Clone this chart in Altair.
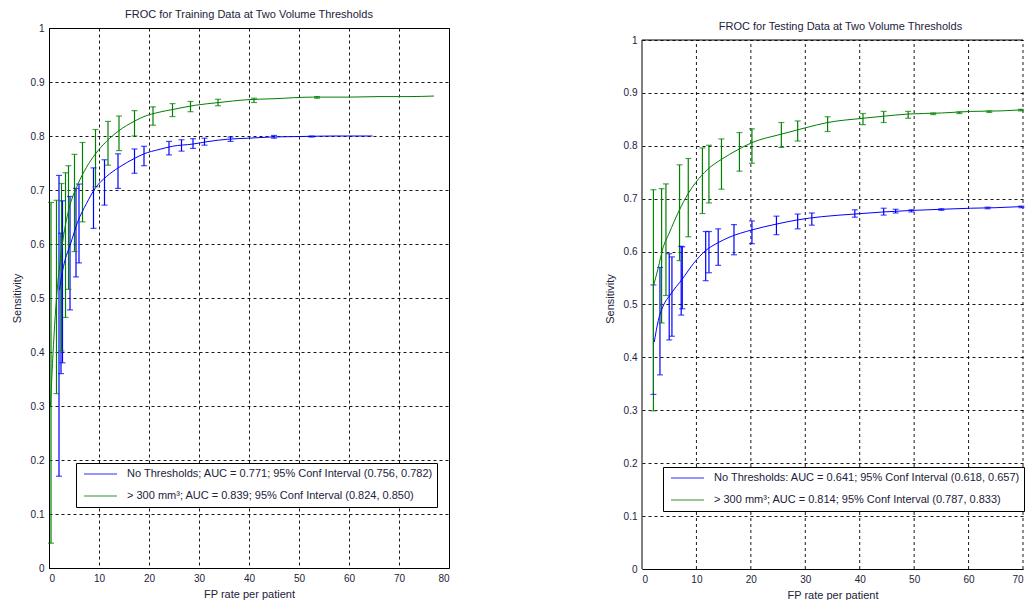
import altair as alt
import pandas as pd

FONT = "Liberation Sans, Arial, Helvetica, sans-serif"
BLUE = "#0000ff"
GREEN = "#008000"
TXT = "#22223a"

# ---------------- training panel ----------------
train_title = "FROC for Training Data at Two Volume Thresholds"
train_labels = ["No Thresholds; AUC = 0.771; 95% Conf Interval (0.756, 0.782)",
                "> 300 mm³; AUC = 0.839; 95% Conf Interval (0.824, 0.850)"]

tr_none_cx = [2.1, 2.6, 3.2, 4.3, 5.7, 7.5, 9.3, 11.5, 14.0, 17.0, 19.0, 22.0, 24.7, 28.7, 32.0, 35.7, 40.0, 44.0, 50.0, 57.0, 64.7]
tr_none_cy = [0.515, 0.545, 0.570, 0.600, 0.640, 0.675, 0.704, 0.725, 0.742, 0.758, 0.767, 0.775, 0.781, 0.785, 0.790, 0.794, 0.796, 0.798, 0.799, 0.800, 0.800]
tr_none_bx = [2.0, 2.4, 2.7, 4.2, 5.4, 6.0, 8.9, 11.1, 13.8, 17.1, 19.0, 24.0, 26.5, 28.8, 31.1, 36.3, 45.0, 52.5]
tr_none_lo = [0.170, 0.360, 0.380, 0.478, 0.539, 0.565, 0.629, 0.672, 0.703, 0.731, 0.745, 0.765, 0.772, 0.777, 0.783, 0.790, 0.796, 0.798]
tr_none_hi = [0.727, 0.620, 0.680, 0.688, 0.703, 0.711, 0.741, 0.756, 0.767, 0.776, 0.781, 0.790, 0.793, 0.795, 0.796, 0.798, 0.801, 0.800]

tr_big_cx = [0.3, 0.6, 1.0, 1.5, 2.0, 3.0, 4.0, 5.7, 7.5, 9.3, 11.5, 14.0, 17.0, 19.0, 22.0, 24.7, 29.3, 34.0, 39.3, 45.0, 52.7, 60.0, 66.0, 72.0, 77.0]
tr_big_cy = [0.300, 0.360, 0.430, 0.500, 0.550, 0.620, 0.665, 0.709, 0.742, 0.767, 0.790, 0.810, 0.827, 0.836, 0.844, 0.849, 0.857, 0.862, 0.867, 0.869, 0.872, 0.872, 0.873, 0.873, 0.874]
tr_big_bx = [0.4, 1.5, 2.5, 3.3, 3.9, 5.1, 6.7, 9.3, 11.8, 14.0, 17.1, 20.8, 24.7, 28.3, 33.8, 41.0, 53.6]
tr_big_lo = [0.046, 0.323, 0.402, 0.464, 0.516, 0.586, 0.641, 0.706, 0.746, 0.773, 0.800, 0.820, 0.836, 0.845, 0.856, 0.862, 0.870]
tr_big_hi = [0.677, 0.681, 0.712, 0.732, 0.745, 0.766, 0.788, 0.812, 0.827, 0.837, 0.847, 0.854, 0.860, 0.864, 0.868, 0.870, 0.873]

# ---------------- testing panel ----------------
test_title = "FROC for Testing Data at Two Volume Thresholds"
test_labels = ["No Thresholds: AUC = 0.641; 95% Conf Interval (0.618, 0.657)",
               "> 300 mm³; AUC = 0.814; 95% Conf Interval (0.787, 0.833)"]

te_none_cx = [2.25, 3.0, 3.8, 5.3, 7.4, 9.5, 11.7, 14.0, 16.0, 20.2, 24.7, 28.6, 33.0, 39.1, 44.4, 50.0, 55.0, 60.4, 65.0, 69.6]
te_none_cy = [0.429, 0.470, 0.495, 0.520, 0.548, 0.578, 0.602, 0.617, 0.627, 0.641, 0.652, 0.660, 0.666, 0.671, 0.675, 0.678, 0.680, 0.682, 0.683, 0.685]
te_none_bx = [2.1, 3.3, 5.0, 5.5, 7.2, 7.4, 11.7, 12.3, 14.0, 16.9, 20.2, 24.7, 28.6, 31.2, 39.1, 44.4, 46.6, 49.5, 55.0, 63.5, 69.7]
te_none_lo = [0.330, 0.367, 0.433, 0.440, 0.480, 0.492, 0.545, 0.560, 0.574, 0.594, 0.615, 0.632, 0.643, 0.650, 0.665, 0.669, 0.673, 0.675, 0.678, 0.681, 0.683]
te_none_hi = [0.537, 0.570, 0.596, 0.590, 0.610, 0.609, 0.638, 0.638, 0.643, 0.651, 0.658, 0.667, 0.671, 0.673, 0.679, 0.682, 0.680, 0.679, 0.681, 0.684, 0.686]

te_big_cx = [2.1, 3.0, 3.8, 5.0, 6.8, 8.5, 9.9, 12.0, 14.7, 17.5, 20.2, 25.6, 30.0, 34.1, 40.6, 44.4, 48.9, 55.0, 60.4, 66.0, 70.0]
te_big_cy = [0.535, 0.570, 0.605, 0.635, 0.677, 0.710, 0.731, 0.755, 0.775, 0.792, 0.806, 0.822, 0.834, 0.844, 0.852, 0.856, 0.860, 0.862, 0.865, 0.866, 0.868]
te_big_bx = [2.1, 3.6, 4.4, 6.9, 8.5, 11.1, 12.3, 14.6, 17.9, 20.2, 25.6, 28.6, 34.1, 40.6, 44.4, 48.9, 53.5, 58.3, 63.8, 69.6]
te_big_lo = [0.299, 0.465, 0.517, 0.583, 0.628, 0.672, 0.692, 0.718, 0.752, 0.767, 0.797, 0.809, 0.827, 0.840, 0.844, 0.852, 0.859, 0.861, 0.863, 0.866]
te_big_hi = [0.717, 0.719, 0.728, 0.764, 0.776, 0.796, 0.801, 0.813, 0.825, 0.832, 0.844, 0.847, 0.855, 0.861, 0.865, 0.865, 0.862, 0.864, 0.866, 0.869]

y_ticks = [0, 0.1, 0.2, 0.3, 0.4, 0.5, 0.6, 0.7, 0.8, 0.9, 1.0]
train_x_ticks = [0, 10, 20, 30, 40, 50, 60, 70, 80]
test_x_ticks = [0, 10, 20, 30, 40, 50, 60, 70]


def curves(labels, c1x, c1y, c2x, c2y):
    a = pd.DataFrame({"x": c1x, "y": c1y, "series": labels[0]})
    b = pd.DataFrame({"x": c2x, "y": c2y, "series": labels[1]})
    return pd.concat([a, b], ignore_index=True)


def bars(labels, b1x, b1lo, b1hi, b2x, b2lo, b2hi):
    a = pd.DataFrame({"x": b1x, "lo": b1lo, "hi": b1hi, "series": labels[0]})
    b = pd.DataFrame({"x": b2x, "lo": b2lo, "hi": b2hi, "series": labels[1]})
    return pd.concat([a, b], ignore_index=True)


def panel(title, labels, cdf, bdf, xmax, xticks, ymax, width, height,
          legend_x, legend_y, title_offset, title_dx, own_frame):
    xs = alt.Scale(domain=[0, xmax], nice=False, zero=False)
    ys = alt.Scale(domain=[0, ymax], nice=False, zero=False)
    xaxis = alt.Axis(values=xticks, format="d", grid=not own_frame,
                     title="FP rate per patient")
    yaxis = alt.Axis(values=y_ticks, format=".1~f", grid=True,
                     domain=not own_frame, title="Sensitivity")
    legend = alt.Legend(title=None, orient="none", legendX=legend_x, legendY=legend_y,
                        symbolType="stroke", symbolSize=1089, symbolStrokeWidth=1.5,
                        symbolOpacity=0.55, labelFontSize=11, labelFont=FONT,
                        labelColor=TXT, labelLimit=500, strokeColor="black",
                        fillColor="white", padding=3, rowPadding=6, clipHeight=16,
                        symbolOffset=4, labelOffset=9)
    color = alt.Color("series:N", scale=alt.Scale(domain=labels, range=[BLUE, GREEN]),
                      legend=legend)

    base_b = alt.Chart(bdf)
    rules = base_b.mark_rule(strokeWidth=1.2).encode(
        x=alt.X("x:Q", scale=xs, axis=xaxis),
        y=alt.Y("lo:Q", scale=ys, axis=yaxis),
        y2="hi:Q",
        color=color,
    )
    caps = base_b.transform_fold(["lo", "hi"], as_=["end", "v"]).mark_tick(
        orient="horizontal", size=6, thickness=1.2).encode(
        x=alt.X("x:Q", scale=xs), y=alt.Y("v:Q", scale=ys), color=color)
    line = alt.Chart(cdf).mark_line(strokeWidth=1, interpolate="monotone").encode(
        x=alt.X("x:Q", scale=xs), y=alt.Y("y:Q", scale=ys), color=color)

    layers = []
    if own_frame:
        grid_df = pd.DataFrame({"gx": [t for t in xticks if t > 0]})
        vgrid = alt.Chart(grid_df).mark_rule(color="black", strokeWidth=1,
                                             strokeDash=[3, 3], opacity=0.9).encode(
            x=alt.X("gx:Q", scale=xs), y=alt.datum(0, scale=ys), y2=alt.datum(1))
        frame_top = alt.Chart(pd.DataFrame({"a": [0], "b": [xmax]})).mark_rule(
            color="black", strokeWidth=1).encode(
            x=alt.X("a:Q", scale=xs), x2="b:Q", y=alt.datum(1, scale=ys))
        frame_left = alt.Chart(pd.DataFrame({"a": [0]})).mark_rule(
            color="black", strokeWidth=1).encode(
            x=alt.X("a:Q", scale=xs), y=alt.datum(0, scale=ys), y2=alt.datum(1))
        layers += [vgrid]
    layers += [rules, caps, line]
    if own_frame:
        layers += [frame_top, frame_left]

    ch = alt.layer(*layers).properties(
        width=width, height=height,
        title=alt.TitleParams(title, fontSize=11, fontWeight="normal", font=FONT,
                              color=TXT, offset=title_offset, frame="group",
                              anchor="middle", dx=title_dx),
    )
    if own_frame:
        ch = ch.properties(view=alt.ViewBackground(strokeOpacity=0))
    return ch


train_c = curves(train_labels, tr_none_cx, tr_none_cy, tr_big_cx, tr_big_cy)
train_b = bars(train_labels, tr_none_bx, tr_none_lo, tr_none_hi, tr_big_bx, tr_big_lo, tr_big_hi)
test_c = curves(test_labels, te_none_cx, te_none_cy, te_big_cx, te_big_cy)
test_b = bars(test_labels, te_none_bx, te_none_lo, te_none_hi, te_big_bx, te_big_lo, te_big_hi)

left = panel(train_title, train_labels, train_c, train_b, 80, train_x_ticks, 1.0,
             400, 540, 27, 435, 3, 0, False)
right = panel(test_title, test_labels, test_c, test_b, 70, test_x_ticks, 1 + 12 / 529,
              381, 541, 21, 439, -4, 8, True)

chart = alt.hconcat(left, right, spacing=154).resolve_scale(
    color="independent").resolve_legend(color="independent").properties(
    padding={"left": 2, "top": 0, "right": 0, "bottom": 0}
).configure_view(stroke="black", strokeWidth=1).configure_axis(
    labelFont=FONT, titleFont=FONT, labelFontSize=10, titleFontSize=11,
    titleFontWeight="normal", labelColor=TXT, titleColor=TXT,
    gridColor="black", gridDash=[3, 3], gridOpacity=0.9, gridWidth=1,
    domainColor="black", ticks=False, labelPadding=5, titlePadding=5
).configure_axisY(titlePadding=8)

chart.save("out.html", embed_options={"renderer": "svg", "actions": False})
